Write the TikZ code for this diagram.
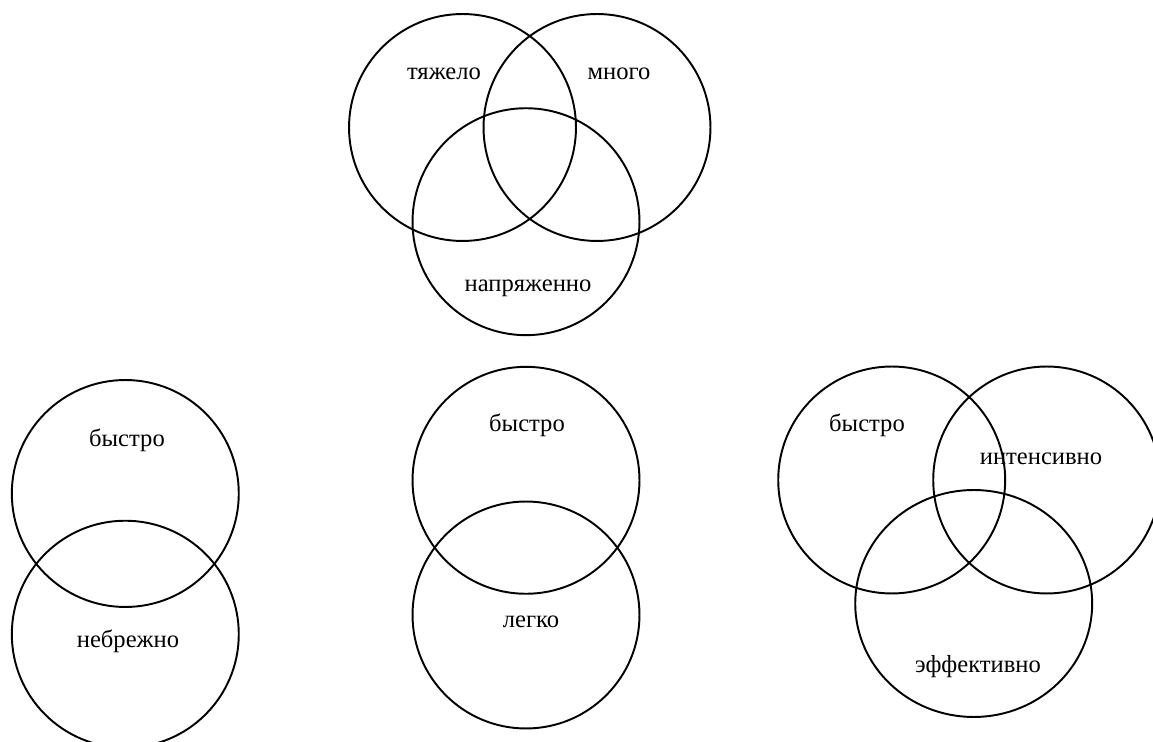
\documentclass[tikz,border=0pt]{standalone}
\usepackage{fontspec}
\setmainfont{Liberation Serif}
\usetikzlibrary{shapes.geometric}

\begin{document}
\begin{tikzpicture}[
        x=0.02cm, y=-0.02cm,
        ring/.style={draw, circle, line width=1.1pt, minimum size=4.54cm, inner sep=0pt},
        oval/.style={draw, ellipse, line width=1.1pt, minimum width=4.74cm, minimum height=4.54cm, inner sep=0pt},
        word/.style={anchor=base, inner sep=0pt, font=\fontsize{14}{16}\selectfont}
    ]
    \useasboundingbox (0,0) rectangle (1153,742);

    % top: three sets
    \node[ring] (heavy) at (462.5,127.5) {};
    \node[ring] (many) at (597,127.5) {};
    \node[ring] (tense) at (526,221.7) {};
    \node[word] (heavyW) at (444,80) {тяжело};
    \node[word] (manyW) at (619,80) {много};
    \node[word] (tenseW) at (528,291.5) {напряженно};

    % bottom left: two sets
    \node[ring] (fastA) at (125.3,493.5) {};
    \node[ring] (careless) at (125.3,634.2) {};
    \node[word] (fastAW) at (127,446.5) {быстро};
    \node[word] (carelessW) at (128,648) {небрежно};

    % bottom middle: two sets
    \node[ring] (fastB) at (526,480.3) {};
    \node[ring] (easy) at (526,615) {};
    \node[word] (fastBW) at (527,431.5) {быстро};
    \node[word] (easyW) at (531,628) {легко};

    % bottom right: three sets
    \node[ring] (fastC) at (891.7,480) {};
    \node[ring] (intense) at (1046.7,480) {};
    \node[oval] (effect) at (973.7,603.5) {};
    \node[word] (fastCW) at (867,431.5) {быстро};
    \node[word] (intenseW) at (1041,465) {интенсивно};
    \node[word] (effectW) at (978,673) {эффективно};
\end{tikzpicture}
\end{document}
